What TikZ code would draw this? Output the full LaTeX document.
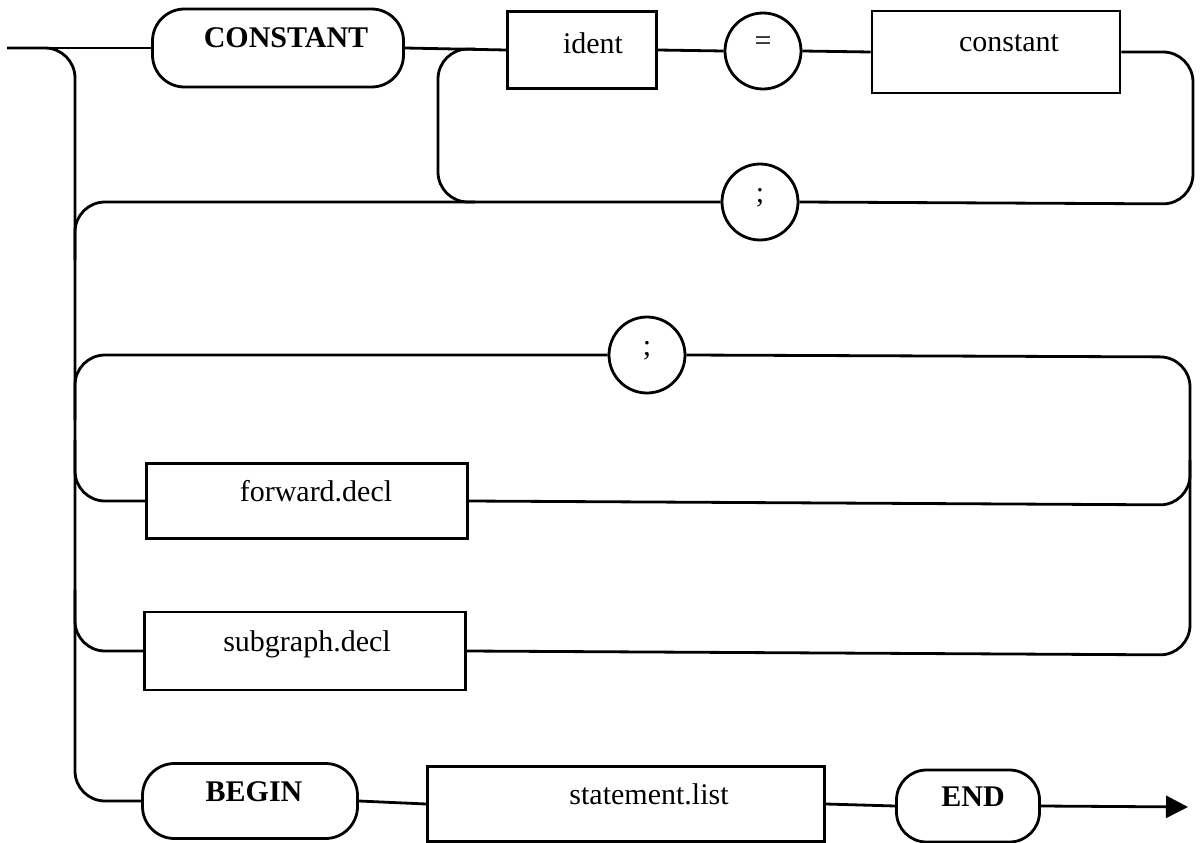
\documentclass[tikz,border=0pt]{standalone}
\usepackage{fontspec}
\setmainfont{Liberation Serif}
\usetikzlibrary{arrows.meta}
\newcommand{\tx}[2]{\raisebox{0pt}[0pt][0pt]{\hspace*{#1}#2}}
\tikzset{
  every path/.style={line width=2.8pt},
  base/.style={draw, line width=2.8pt, inner sep=0pt, font=\fontsize{30}{36}\selectfont},
  kw/.style={base, rounded corners=32pt, font=\fontsize{30}{36}\selectfont\bfseries},
  nt/.style={base, rectangle},
  tm/.style={base, circle, minimum size=76pt},
  rc/.style={rounded corners=30pt},
  arr/.style={-{Triangle[length=22pt,width=22pt]}}
}
\begin{document}
\begin{tikzpicture}[x=1pt,y=-1pt]
\useasboundingbox (0,0) rectangle (1200,843);
% nodes
\node[kw, minimum width=251pt, minimum height=78pt] (CONST) at (278,48) {\tx{16pt}{CONSTANT}};
\node[nt, minimum width=149pt, minimum height=77pt] (ident) at (582,50) {\tx{22pt}{\raisebox{-4pt}{ident}}};
\node[tm] (eq) at (763,51) {\tx{0pt}{=}};
\node[nt, minimum width=248pt, minimum height=82pt] (constant) at (996,52) {\tx{26pt}{constant}};
\node[tm] (semi1) at (760,202) {\tx{0pt}{;}};
\node[tm] (semi2) at (647,355) {\tx{0pt}{;}};
\node[nt, minimum width=321pt, minimum height=75pt] (forward) at (307,501) {\tx{18pt}{forward.decl}};
\node[nt, minimum width=321pt, minimum height=78pt] (subgraph) at (305,651) {\tx{4pt}{subgraph.decl}};
\node[kw, minimum width=215pt, minimum height=75pt] (BEGIN) at (250,801) {\tx{8pt}{BEGIN}};
\node[nt, minimum width=397pt, minimum height=75pt] (stmt) at (626,804) {\tx{46pt}{statement.list}};
\node[kw, rounded corners=30pt, minimum width=143pt, minimum height=72pt] (END) at (968,806) {\tx{10pt}{END}};
% free ends
\coordinate (start) at (7,48);
\coordinate (j1) at (75,260);
\coordinate (j2) at (75,420);
\coordinate (j3) at (1190,460);
\coordinate (j4) at (75,440);
\coordinate (j5) at (75,590);
\coordinate (i1) at (475,49);
\coordinate (i2) at (475,202);
\coordinate (stop) at (1188,807);
% connectors
\draw (start) -- (CONST.west);
\draw[rc] (start) -- (75,48) -- (75,801) -- (BEGIN.west);
\draw (CONST.east) -- (ident.west);
\draw (ident.east) -- (eq.west);
\draw (eq.east) -- (constant.west);
\draw[rc] (constant.east) -- (1193,52) -- (1193,204) -- (semi1.east);
\draw[rc] (semi1.west) -- (75,202) -- (j1);
\draw[rc] (i1) -- (438,49) -- (438,202) -- (i2);
\draw[rc] (semi2.west) -- (75,355) -- (j2);
\draw[rc] (semi2.east) -- (1190,357) -- (1190,655) -- (subgraph.east);
\draw[rc] (forward.east) -- (1190,505) -- (j3);
\draw[rc] (j4) -- (75,501) -- (forward.west);
\draw[rc] (j5) -- (75,651) -- (subgraph.west);
\draw (BEGIN.east) -- (stmt.west);
\draw (stmt.east) -- (END.west);
\draw[arr] (END.east) -- (stop);
\end{tikzpicture}
\end{document}
